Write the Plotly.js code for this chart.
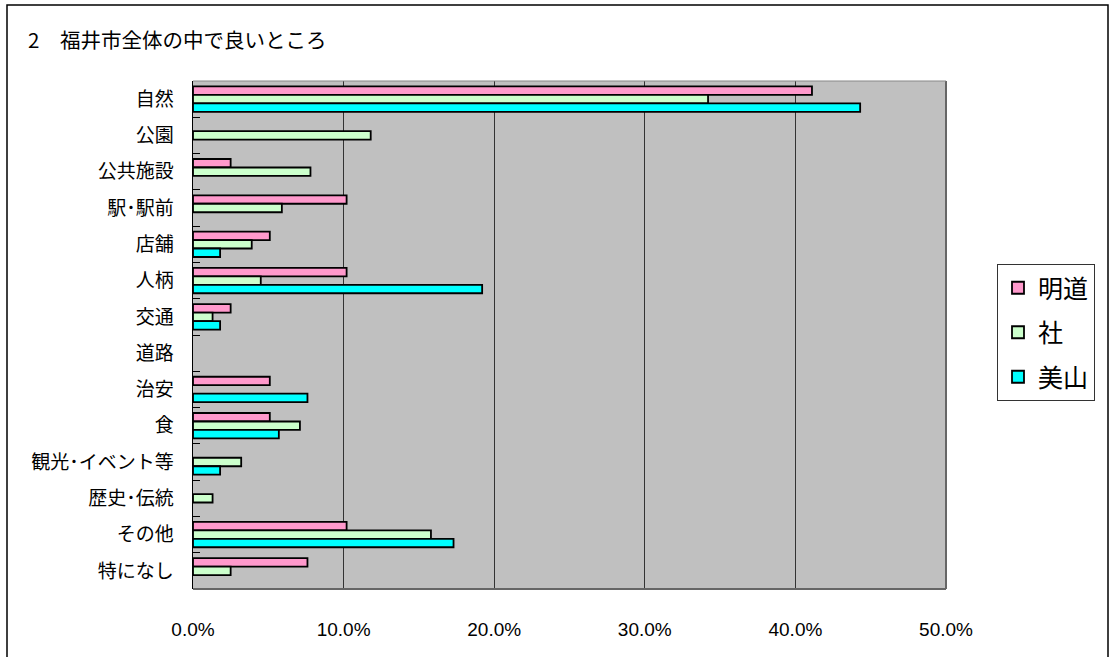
<!DOCTYPE html>
<html>
<head>
<meta charset="utf-8">
<script src="https://cdn.plot.ly/plotly-3.0.1.min.js"></script>
<style>html,body{margin:0;padding:0;background:#fff;}#chart{width:1109px;height:657px;}</style>
</head>
<body>
<div id="chart"></div>
<script>
const categories = ['自然','公園','公共施設','駅･駅前','店舗','人柄','交通','道路','治安','食','観光･イベント等','歴史･伝統','その他','特になし'];
const seriesNames = ['明道','社','美山'];
const meidou = [41.1, null, 2.5, 10.2, 5.1, 10.2, 2.5, null, 5.1, 5.1, null, null, 10.2, 7.6];
const yashiro = [34.2, 11.8, 7.8, 5.9, 3.9, 4.5, 1.3, null, null, 7.1, 3.2, 1.3, 15.8, 2.5];
const miyama = [44.3, null, null, null, 1.8, 19.2, 1.8, null, 7.6, 5.7, 1.8, null, 17.3, null];
const xTicks = [0, 10, 20, 30, 40, 50];

const colors = ['#FF99CC', '#CCFFCC', '#00FFFF'];
const seriesValues = [meidou, yashiro, miyama];
const cjk = '"Noto Sans CJK JP", "Noto Sans", sans-serif';

const traces = seriesValues.map((vals, i) => ({
  type: 'bar',
  orientation: 'h',
  name: seriesNames[i],
  legendgroup: 'g' + i,
  y: categories,
  x: vals,
  marker: {color: colors[i], line: {color: '#000', width: 1.8}},
  hoverinfo: 'x+y'
}));

const L = 193, R = 946, T = 81, B = 589, W = 1109, H = 657;
const pw = R - L, ph = B - T;
function px(x){ return (x - L) / pw; }
function py(y){ return (B - y) / ph; }

const layout = {
  width: W, height: H,
  margin: {l: L, r: W - R, t: T, b: H - B, pad: 0},
  paper_bgcolor: '#fff',
  plot_bgcolor: '#C0C0C0',
  barmode: 'group',
  bargap: 0.3,
  bargroupgap: 0,
  showlegend: true,
  title: {
    text: '2　福井市全体の中で良いところ',
    font: {family: cjk, size: 20.5, color: '#000'},
    x: 28 / W, xanchor: 'left', xref: 'container',
    y: 1 - 41 / H, yanchor: 'middle', yref: 'container'
  },
  xaxis: {
    range: [0, 50],
    tickvals: xTicks,
    ticktext: xTicks.map(v => v.toFixed(1) + '%'),
    showgrid: true, gridcolor: '#333', gridwidth: 1,
    zeroline: false,
    showline: false,
    ticks: '',
    ticklabelstandoff: 27,
    tickfont: {family: '"Liberation Sans", Arial, sans-serif', size: 19, color: '#000'},
    fixedrange: true
  },
  yaxis: {
    type: 'category',
    autorange: 'reversed',
    showgrid: false,
    zeroline: false,
    showline: true, linecolor: '#000', linewidth: 1.5,
    ticks: 'inside', tickson: 'boundaries', ticklen: 7, tickcolor: '#000', tickwidth: 1,
    ticklabelstandoff: 14,
    tickfont: {family: cjk, size: 19, color: '#000'},
    fixedrange: true
  },
  legend: {
    x: px(997), xanchor: 'left',
    y: py(264), yanchor: 'top',
    bgcolor: '#fff',
    bordercolor: '#333', borderwidth: 1,
    font: {family: cjk, size: 25, color: '#000'},
    traceorder: 'grouped',
    itemwidth: 30,
    tracegroupgap: 9
  },
  shapes: [
    {type: 'rect', xref: 'paper', yref: 'paper', x0: px(7), x1: px(1108), y0: py(700), y1: py(5),
     line: {color: '#000', width: 1.5}, fillcolor: 'rgba(0,0,0,0)', layer: 'below'},
    {type: 'line', xref: 'paper', yref: 'paper', x0: 0, x1: 1, y0: 0, y1: 0, line: {color: '#666', width: 2}},
    {type: 'line', xref: 'paper', yref: 'paper', x0: 1, x1: 1, y0: 0, y1: 1, line: {color: '#666', width: 2}},
    {type: 'line', xref: 'paper', yref: 'paper', x0: 0, x1: 1, y0: 1, y1: 1, line: {color: '#888', width: 1}}
  ]
};

Plotly.newPlot('chart', traces, layout, {displayModeBar: false, staticPlot: true});
</script>
</body>
</html>
